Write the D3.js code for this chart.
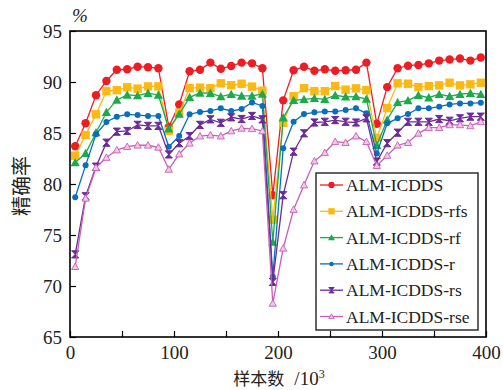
<!DOCTYPE html>
<html><head><meta charset="utf-8">
<script src="https://cdn.jsdelivr.net/npm/d3@7"></script>
<style>body{margin:0;background:#fff}svg{display:block}</style>
</head><body>
<svg id="c" width="503" height="390"></svg>
<script>
const sampleX = [5,15,25,35,45,55,65,75,85,95,105,115,125,135,145,155,165,175,185,195,205,215,225,235,245,255,265,275,285,295,305,315,325,335,345,355,365,375,385,395];
const seriesNames = ["ALM-ICDDS","ALM-ICDDS-rfs","ALM-ICDDS-rf","ALM-ICDDS-r","ALM-ICDDS-rs","ALM-ICDDS-rse"];
const red = [83.7,85.95,88.7,90.1,91.2,91.25,91.5,91.45,91.35,85.6, 87.8,91.05,91.2,91.9,91.3,91.57,91.9,91.83,91.35,78.9, 88.2,91.15,91.5,91.1,91.25,91.1,91.15,91.2,91.9,85.9, 89.5,91.35,91.6,91.67,91.83,92.1,92.2,92.3,92.1,92.4];
const yellow = [82.78,84.8,86.83,89.1,89.2,89.48,89.35,89.57,89.57,85.2, 87.0,89.4,89.45,89.4,89.87,89.68,89.83,89.55,89.15,76.5, 86.0,88.6,89.4,89.1,89.1,89.6,89.25,89.38,89.2,84.5, 87.45,89.87,89.83,89.5,89.6,89.67,89.93,89.67,89.77,89.93];
const green = [82.1,83.0,85.03,87.03,88.24,88.73,88.66,88.9,88.73,85.4, 86.85,88.5,88.92,88.9,88.56,88.8,88.63,88.63,88.82,74.3, 86.5,88.2,88.3,88.4,88.3,88.7,88.55,88.56,88.33,83.8, 86.3,88.0,88.17,88.7,88.46,88.8,88.6,88.8,88.9,88.8];
const blue = [78.7,81.83,84.87,86.08,86.6,86.83,86.76,86.67,86.67,83.66, 84.7,86.83,87.06,87.16,87.42,87.16,87.35,88.0,87.65,70.9, 83.5,86.1,86.86,87.03,87.1,87.1,87.25,87.42,86.93,83.0, 85.95,86.44,86.86,87.42,87.42,87.58,87.8,87.9,87.9,87.97];
const purple = [73.1,78.8,81.7,84.05,85.13,85.2,85.8,85.7,85.7,82.9, 84.0,84.7,85.8,86.34,86.0,86.54,86.37,86.67,86.34,70.4, 78.9,83.17,84.97,86.03,86.1,86.27,86.1,86.03,86.44,82.2, 84.0,85.03,86.1,86.1,86.1,86.37,86.2,86.44,86.6,86.6];
const pink = [71.9,78.6,81.6,82.6,83.33,83.66,83.8,83.8,83.6,81.44, 82.94,84.0,84.7,84.8,84.7,85.2,85.46,85.42,85.2,68.3, 73.7,77.5,79.9,82.25,83.07,84.15,84.05,84.7,84.15,81.8, 82.8,83.8,84.05,84.97,85.52,85.52,85.8,85.8,85.7,86.1];
const xTicks = [0,50,100,150,200,250,300,350,400];
const xTickLabels = [0,100,200,300,400];
const yTicks = [65,70,75,80,85,90,95];

const svg = d3.select("#c");
const L=70,R=486,T=31,B=337;
const x = d3.scaleLinear().domain([0,400]).range([L,R]);
const y = d3.scaleLinear().domain([65,95]).range([B,T]);
const serif = "'Liberation Serif','DejaVu Serif',serif";
const cjk = "'Noto Sans CJK SC',sans-serif";

const styles = [
  {c:"#ee1d24", m:"circle", s:4.2, fill:"#ee1d24"},
  {c:"#fdb913", m:"square", s:4.2, fill:"#fdb913"},
  {c:"#1bab4b", m:"triangle", s:4.6, fill:"#1bab4b"},
  {c:"#0a6ebd", m:"circle", s:3.0, fill:"#0a6ebd"},
  {c:"#6b2c98", m:"hour", s:3.6, fill:"#6b2c98"},
  {c:"#c65fb6", m:"otri", s:3.6, fill:"#f3c6e8"}
];
const data = [red,yellow,green,blue,purple,pink];

function marker(g, st, cx, cy){
  const s = st.s;
  if(st.m==="circle") g.append("circle").attr("cx",cx).attr("cy",cy).attr("r",s).attr("fill",st.fill);
  else if(st.m==="square") g.append("rect").attr("x",cx-s).attr("y",cy-s).attr("width",2*s).attr("height",2*s).attr("fill",st.fill);
  else if(st.m==="triangle") g.append("path").attr("d",`M${cx},${cy-s}L${cx+s},${cy+s*0.8}L${cx-s},${cy+s*0.8}Z`).attr("fill",st.fill);
  else if(st.m==="hour") g.append("path").attr("d",`M${cx-s},${cy-s}L${cx+s},${cy-s}L${cx-s},${cy+s}L${cx+s},${cy+s}Z`).attr("fill",st.fill).attr("stroke",st.c).attr("stroke-width",1);
  else if(st.m==="otri") g.append("path").attr("d",`M${cx},${cy-s}L${cx+s},${cy+s*0.8}L${cx-s},${cy+s*0.8}Z`).attr("fill",st.fill).attr("stroke",st.c).attr("stroke-width",0.9);
}

const line = d3.line().x((d,i)=>x(sampleX[i])).y(d=>y(d));
data.forEach((vals,k)=>{
  const st = styles[k];
  const g = svg.append("g");
  g.append("path").datum(vals).attr("d",line).attr("fill","none").attr("stroke",st.c).attr("stroke-width",1.3);
  vals.forEach((v,i)=>marker(g,st,x(sampleX[i]),y(v)));
});

const xa = svg.append("g").attr("transform",`translate(0,${B})`)
  .call(d3.axisBottom(x).tickValues(xTicks).tickSizeInner(-6).tickSizeOuter(0).tickPadding(9)
  .tickFormat(d=>xTickLabels.includes(d)?d:""));
const ya = svg.append("g").attr("transform",`translate(${L},0)`)
  .call(d3.axisLeft(y).tickValues(yTicks).tickSizeInner(-6).tickSizeOuter(0).tickPadding(8));
[xa,ya].forEach(a=>{
  a.select(".domain").remove();
  a.selectAll("line").attr("stroke","#000").attr("stroke-width",1.2);
  a.selectAll("text").attr("font-family",serif).attr("font-size",19).attr("fill","#222");
});
svg.append("rect").attr("x",L).attr("y",T).attr("width",R-L).attr("height",B-T)
  .attr("fill","none").attr("stroke","#000").attr("stroke-width",1.6);

svg.append("text").attr("x",80).attr("y",22).attr("text-anchor","middle").attr("font-family",serif)
  .attr("font-style","italic").attr("font-size",19).attr("fill","#222").text("%");
svg.append("text").attr("transform","translate(29,186) rotate(-90)").attr("text-anchor","middle")
  .attr("font-family",cjk).attr("font-size",20).attr("fill","#222").text("精确率");
const xt = svg.append("text").attr("x",279).attr("y",385).attr("text-anchor","middle").attr("fill","#222");
xt.append("tspan").attr("font-family",cjk).attr("font-size",17).text("样本数");
xt.append("tspan").attr("font-family",serif).attr("font-size",19).attr("dx",10).text("/10");
xt.append("tspan").attr("font-family",serif).attr("font-size",12).attr("dy",-7).text("3");

const lg = svg.append("g");
lg.append("rect").attr("x",316).attr("y",173).attr("width",162).attr("height",157)
  .attr("fill","#fff").attr("stroke","#222").attr("stroke-width",1.4);
seriesNames.forEach((n,k)=>{
  const st = styles[k];
  const yy = 185 + k*26.3;
  lg.append("line").attr("x1",320).attr("x2",343).attr("y1",yy).attr("y2",yy).attr("stroke",st.c).attr("stroke-width",1.3);
  marker(lg,{...st,s:st.s*0.75},331.5,yy);
  lg.append("text").attr("x",346).attr("y",yy+6).attr("font-family",serif).attr("font-size",17.5).attr("fill","#222").text(n);
});
</script>
</body></html>
